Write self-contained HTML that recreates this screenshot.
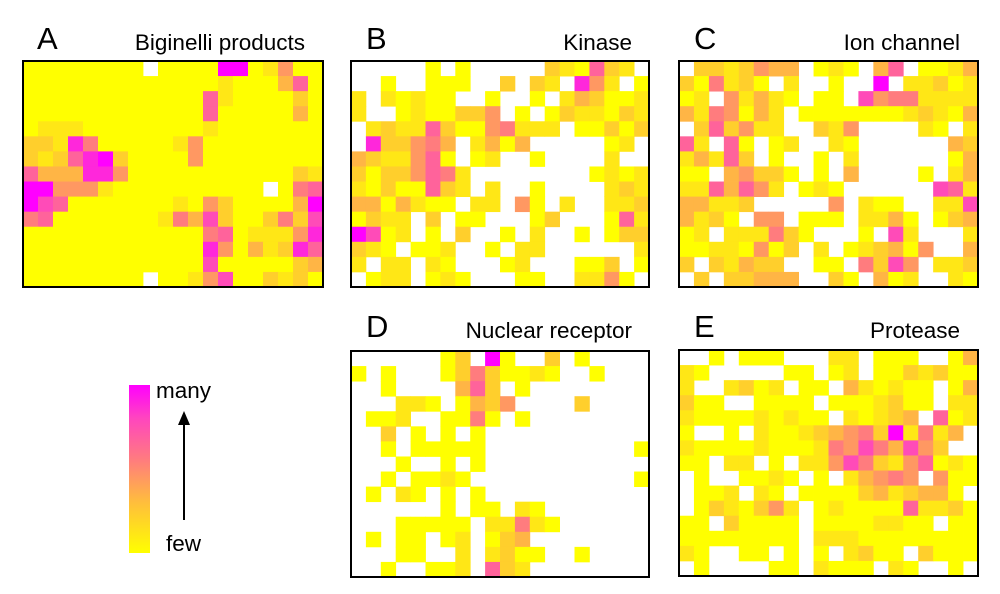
<!DOCTYPE html>
<html><head><meta charset="utf-8"><style>
html,body{margin:0;padding:0;background:#fff;width:1000px;height:594px;overflow:hidden}
svg text{font-family:"Liberation Sans",sans-serif;fill:#000}
</style></head><body>
<svg id="chart" width="1000" height="594" viewBox="0 0 1000 594" xmlns="http://www.w3.org/2000/svg">
<defs><linearGradient id="lg" x1="0" y1="1" x2="0" y2="0">
<stop offset="0" stop-color="#ffff00"/><stop offset="0.3" stop-color="#ffbe3c"/><stop offset="0.55" stop-color="#ff7d7d"/><stop offset="0.8" stop-color="#ff46be"/><stop offset="1" stop-color="#ff00ff"/></linearGradient></defs>
<g id="cells"></g>
<text x="37" y="49" font-size="31">A</text>
<text x="305" y="50" font-size="22.5" text-anchor="end">Biginelli products</text>
<text x="366" y="49" font-size="31">B</text>
<text x="632" y="50" font-size="22.5" text-anchor="end">Kinase</text>
<text x="694" y="49" font-size="31">C</text>
<text x="960" y="50" font-size="22.5" text-anchor="end">Ion channel</text>
<text x="366" y="337" font-size="31">D</text>
<text x="632" y="338" font-size="22.5" text-anchor="end">Nuclear receptor</text>
<text x="694" y="337" font-size="31">E</text>
<text x="960" y="338" font-size="22.5" text-anchor="end">Protease</text>
<rect x="129" y="385" width="21" height="168" fill="url(#lg)"/>
<line x1="184" y1="520" x2="184" y2="425" stroke="#000" stroke-width="2"/>
<polygon points="178,425 190,425 184,411" fill="#000"/>
<text x="156" y="398" font-size="22.5">many</text>
<text x="166" y="551" font-size="22.5">few</text>
</svg>
<script>
const gridA=["00000000.00009901400","00000000000001000360","00000000000061000020","00000000000060000030","01110000000010000000","22185000001400000000","21268920000400000000","63338840000000000021","9944410000000000.056","97600000001042000039","56000000015372002527","00000000000056011148","00000000000084031286","00000000000070000023","00000000.00147002120"];
const gridB=[".....0.0.....210621.","..0..000..2.21.841.0","1.10100..0..0.132001","1..0100224.0.0211021",".1211620045111.00202",".822453.1303.....01.","3211460.01..0....1..","20224651........0101","10200621.1..0....121","3303100.11.40.1..112","0211.2.00...02...061","9701.0.2..0.1..0.022","210.001..0.11......1","1.11.10...01...002.0",".011.010...00..1140."];
const gridC=[".2212433.010.36.0013","205120.1..0..9.11201","01.41310.00.74551111","3154031.000000012103",".262411..214....10.1","61.60.01..10......32","13162.0..0.1......03","00.34220.0.3....0.13","1163641.010......761","33112.....4.100..117","3120.44.000.1130.023","01.111520...0.71...1","00110402.1.012304..3","2.21322..00.5274.112",".2.22333..20.301..10"];
const gridD=["......02.90..2.0....","0.0...02520010..0...","..0....362.0........","...110.0324....2....",".001..0050.0........","..2.0.0.0...........","..0.00000..........0","...0..0.0...........","..0.0010...........0",".0.10.0.0...........","......0.00.10.......","...00000.11510......",".0.00.01.023........","...00..1.1200..0....","..0..001.621........"];
const gridE=["..0.000...11.000..03","10.....00.01.0021200","1..1201.00.310100.03","200..0000.0001200.11","1000010100.10123.601","0..0.10012345291513.","100001000154753742..","00.11.0.114752146010",".0..0010.0.13454.400",".001.10.00002312330.",".0210241.01000061120","00.20000.00001100.00","00000000.11100000000","10..00.0.0.1200.2000",".0....00.1000.10..0."];
const panelNames=["a","b","c","d","e"];
const grids=[gridA,gridB,gridC,gridD,gridE];
const boxes=[[23,61,300,226],[351,61,298,226],[679,61,299,226],[351,351,298,226],[679,350,299,226]];
const stops=[[0,255,255,0],[0.3,255,190,60],[0.55,255,125,125],[0.8,255,70,190],[1,255,0,255]];
function color(v){const t=v/9;for(let i=1;i<stops.length;i++){if(t<=stops[i][0]){const a=stops[i-1],b=stops[i],f=(t-a[0])/(b[0]-a[0]);return `rgb(${Math.round(a[1]+(b[1]-a[1])*f)},${Math.round(a[2]+(b[2]-a[2])*f)},${Math.round(a[3]+(b[3]-a[3])*f)})`;}}return 'rgb(255,0,255)';}
const NS="http://www.w3.org/2000/svg";const root=document.getElementById('cells');
grids.forEach((g,p)=>{const [bx,by,bw,bh]=boxes[p];const rows=g.length,cols=g[0].length;const cw=bw/cols,ch=bh/rows;
const grp=document.createElementNS(NS,'g');


root.appendChild(grp);
g.forEach((row,r)=>{for(let c=0;c<cols;c++){const ch0=row[c];if(ch0==='.')continue;const v=+ch0;
const rc=document.createElementNS(NS,'rect');


rc.setAttribute('x',(bx+c*cw).toFixed(2));rc.setAttribute('y',(by+r*ch).toFixed(2));
rc.setAttribute('width',(cw+0.4).toFixed(2));rc.setAttribute('height',(ch+0.4).toFixed(2));
rc.setAttribute('fill',color(v));grp.appendChild(rc);}});
const fr=document.createElementNS(NS,'rect');


fr.setAttribute('x',bx);fr.setAttribute('y',by);fr.setAttribute('width',bw);fr.setAttribute('height',bh);
fr.setAttribute('fill','none');fr.setAttribute('stroke','#000');fr.setAttribute('stroke-width','2');grp.appendChild(fr);});
</script>
</body></html>
